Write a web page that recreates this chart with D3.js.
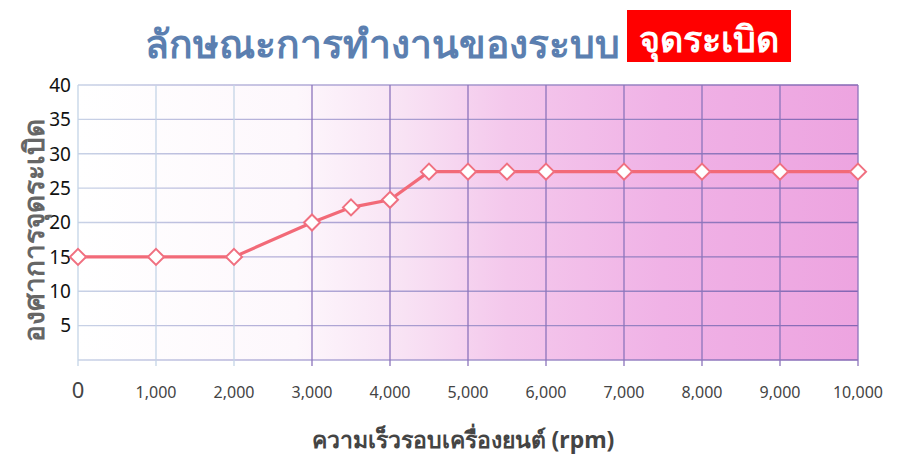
<!DOCTYPE html>
<html>
<head>
<meta charset="utf-8">
<script src="https://cdn.jsdelivr.net/npm/d3@7"></script>
<style>
  body { margin:0; background:#fff; }
  svg text { font-family: "Noto Sans", "DejaVu Sans", sans-serif; }
</style>
</head>
<body>
<div id="chart"></div>
<script>
var width = 900, height = 476;

var rpm = [0, 1000, 2000, 3000, 3500, 4000, 4500, 5000, 5500, 6000, 7000, 8000, 9000, 10000];
var degree = [15, 15, 15, 20, 22.2, 23.3, 27.4, 27.4, 27.4, 27.4, 27.4, 27.4, 27.4, 27.4];
var xTicks = [0, 1000, 2000, 3000, 4000, 5000, 6000, 7000, 8000, 9000, 10000];
var yTicks = [5, 10, 15, 20, 25, 30, 35, 40];
var yGrid = [0, 5, 10, 15, 20, 25, 30, 35, 40];

var margin = {left:78, right:40, top:85, bottom:116};

var svg = d3.select("#chart").append("svg")
  .attr("width", width)
  .attr("height", height);

var x = d3.scaleLinear().domain([0, 10000]).range([margin.left, width - margin.right - 2]);
var y = d3.scaleLinear().domain([0, 40]).range([height - margin.bottom, margin.top]);

var defs = svg.append("defs");
var bg = defs.append("linearGradient").attr("id", "bg")
  .attr("gradientUnits", "userSpaceOnUse")
  .attr("x1", x(0)).attr("x2", x(10000)).attr("y1", 0).attr("y2", 0);
bg.append("stop").attr("offset", "0%").attr("stop-color", "#ffffff");
bg.append("stop").attr("offset", "28%").attr("stop-color", "#fdf7fc");
bg.append("stop").attr("offset", "42%").attr("stop-color", "#f8e2f4");
bg.append("stop").attr("offset", "55%").attr("stop-color", "#f4c8ec");
bg.append("stop").attr("offset", "75%").attr("stop-color", "#f0b2e6");
bg.append("stop").attr("offset", "100%").attr("stop-color", "#eda4e0");

var gl = defs.append("linearGradient").attr("id", "gl")
  .attr("gradientUnits", "userSpaceOnUse")
  .attr("x1", x(0)).attr("x2", x(10000)).attr("y1", 0).attr("y2", 0);
gl.append("stop").attr("offset", "0%").attr("stop-color", "#c8d2e6");
gl.append("stop").attr("offset", "30%").attr("stop-color", "#b0a8d6");
gl.append("stop").attr("offset", "100%").attr("stop-color", "#8466b4");

// plot background
svg.append("rect")
  .attr("x", x(0)).attr("y", y(40))
  .attr("width", x(10000) - x(0))
  .attr("height", y(0) - y(40))
  .attr("fill", "url(#bg)");

// grid
svg.append("g").selectAll("line.h")
  .data(yGrid).enter().append("line")
  .attr("x1", x(0)).attr("x2", x(10000))
  .attr("y1", function(d){ return y(d); })
  .attr("y2", function(d){ return y(d); })
  .attr("stroke", "url(#gl)")
  .attr("stroke-width", 1.3);

svg.append("g").selectAll("line.v")
  .data(xTicks).enter().append("line")
  .attr("x1", function(d){ return x(d); })
  .attr("x2", function(d){ return x(d); })
  .attr("y1", y(40)).attr("y2", y(0) + 6)
  .attr("stroke", function(d){ return d < 3000 ? "#c4d4e6" : "#8c74bc"; })
  .attr("stroke-width", 1.3);

// y tick labels
svg.append("g").selectAll("text")
  .data(yTicks).enter().append("text")
  .attr("x", 71)
  .attr("y", function(d){ return y(d); })
  .attr("dy", "0.36em")
  .attr("text-anchor", "end")
  .attr("font-size", "19px")
  .attr("fill", "#111")
  .text(function(d){ return d; });

// x tick labels
svg.append("g").selectAll("text")
  .data(xTicks).enter().append("text")
  .attr("x", function(d){ return x(d); })
  .attr("y", 398)
  .attr("text-anchor", "middle")
  .attr("font-size", function(d){ return d == 0 ? "22px" : "16px"; })
  .attr("fill", "#444")
  .text(function(d){ return d == 0 ? "0" : d3.format(",")(d); });

// line
var line = d3.line()
  .x(function(d, i){ return x(rpm[i]); })
  .y(function(d){ return y(d); });

svg.append("path")
  .datum(degree)
  .attr("d", line)
  .attr("fill", "none")
  .attr("stroke", "#f26a78")
  .attr("stroke-width", 3.2);

svg.append("g").selectAll("path")
  .data(degree).enter().append("path")
  .attr("transform", function(d, i){ return "translate(" + x(rpm[i]) + "," + y(d) + ")"; })
  .attr("d", "M0,-8L8,0L0,8L-8,0Z")
  .attr("fill", "#fff")
  .attr("stroke", "#f07080")
  .attr("stroke-width", 2);

// titles
svg.append("text")
  .attr("x", 382).attr("y", 58)
  .attr("text-anchor", "middle")
  .attr("font-size", "39px")
  .attr("font-weight", "bold")
  .attr("fill", "#5b7fb0")
  .text("ลักษณะการทำงานของระบบ");

svg.append("rect")
  .attr("x", 627).attr("y", 10)
  .attr("width", 164).attr("height", 52)
  .attr("fill", "#ff0000");

svg.append("text")
  .attr("x", 709).attr("y", 52)
  .attr("text-anchor", "middle")
  .attr("font-size", "36px")
  .attr("font-weight", "bold")
  .attr("fill", "#fff")
  .text("จุดระเบิด");

svg.append("text")
  .attr("transform", "translate(44,230) rotate(-90)")
  .attr("text-anchor", "middle")
  .attr("font-size", "28px")
  .attr("font-weight", "bold")
  .attr("fill", "#666")
  .text("องศาการจุดระเบิด");

svg.append("text")
  .attr("x", 463).attr("y", 448)
  .attr("text-anchor", "middle")
  .attr("font-size", "23px")
  .attr("font-weight", "bold")
  .attr("fill", "#444")
  .text("ความเร็วรอบเครื่องยนต์ (rpm)");
</script>
</body>
</html>
